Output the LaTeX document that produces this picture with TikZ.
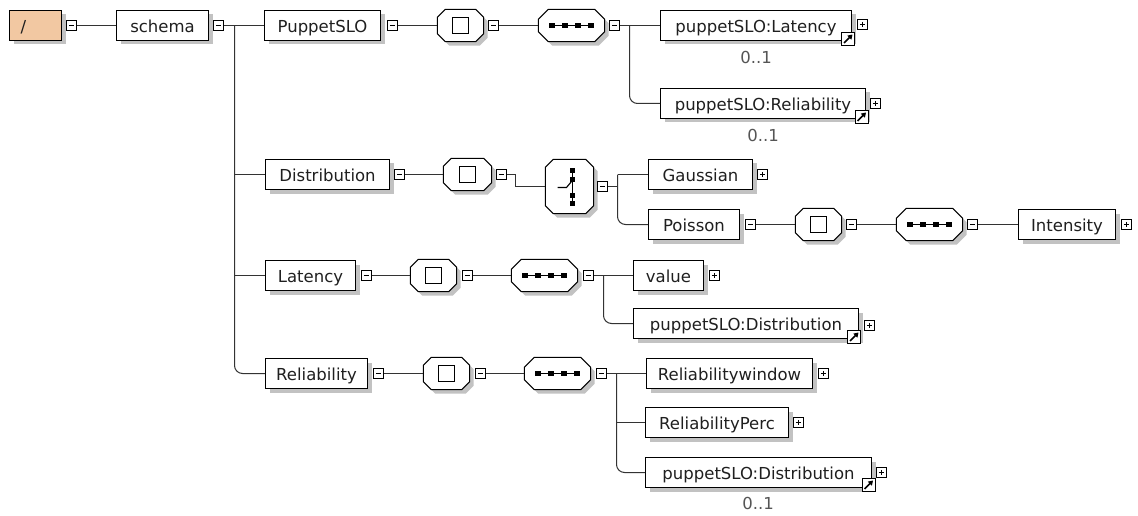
\documentclass[tikz,border=0pt]{standalone}
\usepackage{fontspec}
\setmainfont{DejaVu Sans}
\usetikzlibrary{shadows,arrows.meta}
\definecolor{peach}{HTML}{F2C8A2}
\definecolor{shadowgray}{HTML}{C2C2C2}
\definecolor{linegray}{HTML}{333333}
\definecolor{labelgray}{HTML}{555555}
\tikzset{
  sh/.style={drop shadow={shadow xshift=4pt, shadow yshift=-4pt, fill=shadowgray, opacity=1}},
  elem/.style={draw=black, fill=white, line width=1pt, inner sep=0pt, minimum height=30pt,
    text height=14.5pt, text depth=1pt, font=\fontsize{16.5}{20}\selectfont, text=black!88, sh},
  octfill/.style={draw=black, fill=white, line width=1pt, sh},
  conn/.style={draw=linegray, line width=1pt},
  mbox/.style={draw=black, fill=white, minimum size=10pt, inner sep=0pt, line width=1pt,
    path picture={\draw[line width=1pt] ([xshift=2.3pt]path picture bounding box.west) -- ([xshift=-2.3pt]path picture bounding box.east);}},
  pbox/.style={draw=black, fill=white, minimum size=10pt, inner sep=0pt, line width=1pt,
    path picture={\draw[line width=1pt] ([xshift=2.3pt]path picture bounding box.west) -- ([xshift=-2.3pt]path picture bounding box.east);
      \draw[line width=1pt] ([yshift=-2.3pt]path picture bounding box.north) -- ([yshift=2.3pt]path picture bounding box.south);}},
  refbox/.style={draw=black, fill=white, minimum size=13pt, inner sep=0pt, line width=1pt,
    path picture={\draw[line width=1.6pt, -{Triangle[length=4.5pt,width=5.5pt]}] ([shift={(2.5pt,2.5pt)}]path picture bounding box.south west) -- ([shift={(-2pt,-2pt)}]path picture bounding box.north east);}},
  lbl/.style={font=\fontsize{16.5}{20}\selectfont, text=labelgray, inner sep=0pt}
}
\newcommand\octnode[6]{% name, x, y, w, h, chamfer
  \node[inner sep=0pt, minimum width=#4pt, minimum height=#5pt] (#1) at (#2,#3) {};
  \filldraw[octfill] ([xshift=#6pt]#1.north west) -- ([xshift=-#6pt]#1.north east) -- ([yshift=-#6pt]#1.north east)
    -- ([yshift=#6pt]#1.south east) -- ([xshift=-#6pt]#1.south east) -- ([xshift=#6pt]#1.south west)
    -- ([yshift=#6pt]#1.south west) -- ([yshift=-#6pt]#1.north west) -- cycle;
}
\newcommand\allicon[1]{%
  \draw[line width=1pt] ([shift={(-8pt,-8pt)}]#1.center) rectangle ([shift={(8pt,8pt)}]#1.center);
}
\newcommand\seqicon[1]{%
  \draw[line width=1.1pt] ([xshift=-20pt]#1.center) -- ([xshift=20pt]#1.center);
  \foreach \dx in {-19.5,-6.5,6.5,19.5}{
    \fill ([xshift=\dx pt]#1.center) +(-2.7pt,-2.7pt) rectangle +(2.7pt,2.7pt);
  }
}
\newcommand\choiceicon[1]{%
  \draw[line width=1.1pt] ([shift={(3pt,16pt)}]#1.center) -- ([shift={(3pt,-17pt)}]#1.center);
  \foreach \dy in {16,7,-9,-17}{
    \fill ([shift={(3pt,\dy pt)}]#1.center) +(-2.8pt,-2.8pt) rectangle +(2.8pt,2.8pt);
  }
  \draw[line width=1.1pt] ([shift={(-12pt,-1pt)}]#1.center) -- ([shift={(-3pt,-1pt)}]#1.center) -- ([shift={(2pt,5pt)}]#1.center);
}
\begin{document}
\begin{tikzpicture}[x=1pt,y=-1pt]
\useasboundingbox (0,0) rectangle (1138,516);
\fill[white] (0,0) rectangle (1138,516);

% ---- root row ----
\node[elem, fill=peach, minimum width=52pt] (root) at (35.5,25.5) {\makebox[30pt][l]{/}};
\node[mbox] (mroot) at (71.5,25.5) {};
\node[elem, minimum width=92pt] (schema) at (162.5,25.5) {schema};
\node[mbox] (mschema) at (218.5,25.5) {};

% ---- PuppetSLO ----
\node[elem, minimum width=116pt] (puppet) at (322.5,25.5) {PuppetSLO};
\node[mbox] (mpuppet) at (392.5,25.5) {};
\octnode{all1}{460.5}{25.5}{46}{32}{8}\allicon{all1}
\node[mbox] (mall1) at (493.5,25.5) {};
\octnode{seq1}{571.5}{25.5}{66}{32}{10}\seqicon{seq1}
\node[mbox] (mseq1) at (614.5,25.5) {};
\node[elem, minimum width=191pt] (plat) at (756,25.5) {puppetSLO:Latency};
\node[refbox] (rplat) at (848,39) {};
\node[pbox] (pplat) at (862.5,24.5) {};
\node[lbl] (c1) at (756,57) {0..1};
\node[elem, minimum width=205pt] (prel) at (763,103.5) {puppetSLO:Reliability};
\node[refbox] (rprel) at (861.5,117) {};
\node[pbox] (pprel) at (875.5,103.5) {};
\node[lbl] (c2) at (763,135) {0..1};

% ---- Distribution ----
\node[elem, minimum width=124pt] (dist) at (327.5,174.5) {Distribution};
\node[mbox] (mdist) at (399.5,174.5) {};
\octnode{all2}{467.5}{174.5}{48}{32}{8}\allicon{all2}
\node[mbox] (mall2) at (501.5,174.5) {};
\octnode{choice}{569.5}{186.5}{48}{54}{8}\choiceicon{choice}
\node[mbox] (mchoice) at (602.5,186.5) {};
\node[elem, minimum width=104pt] (gauss) at (700.5,174.5) {Gaussian};
\node[pbox] (pgauss) at (762.5,174.5) {};
\node[elem, minimum width=91pt] (poisson) at (694,224.5) {Poisson};
\node[mbox] (mpoisson) at (750.5,224.5) {};
\octnode{all3}{818.5}{224.5}{46}{32}{8}\allicon{all3}
\node[mbox] (mall3) at (851.5,224.5) {};
\octnode{seq3}{929.5}{224.5}{66}{32}{10}\seqicon{seq3}
\node[mbox] (mseq3) at (972.5,224.5) {};
\node[elem, minimum width=97pt] (intensity) at (1067,224.5) {Intensity};
\node[pbox] (pintensity) at (1126.5,224.5) {};

% ---- Latency ----
\node[elem, minimum width=90pt] (latency) at (310.5,275.5) {Latency};
\node[mbox] (mlatency) at (366.5,275.5) {};
\octnode{all4}{433.5}{275.5}{46}{32}{8}\allicon{all4}
\node[mbox] (mall4) at (467.5,275.5) {};
\octnode{seq4}{544.5}{275.5}{66}{32}{10}\seqicon{seq4}
\node[mbox] (mseq4) at (588.5,275.5) {};
\node[elem, minimum width=70pt] (value) at (668.5,275.5) {value};
\node[pbox] (pvalue) at (714.5,275.5) {};
\node[elem, minimum width=225pt] (ldist) at (746,323.5) {puppetSLO:Distribution};
\node[refbox] (rldist) at (854,337) {};
\node[pbox] (pldist) at (869.5,325.5) {};

% ---- Reliability ----
\node[elem, minimum width=102pt] (reliab) at (316.5,373.5) {Reliability};
\node[mbox] (mreliab) at (378.5,373.5) {};
\octnode{all5}{446.5}{373.5}{46}{32}{8}\allicon{all5}
\node[mbox] (mall5) at (480.5,373.5) {};
\octnode{seq5}{557.5}{373.5}{66}{32}{10}\seqicon{seq5}
\node[mbox] (mseq5) at (601.5,373.5) {};
\node[elem, minimum width=166pt] (rwin) at (729.5,373.5) {Reliabilitywindow};
\node[pbox] (prwin) at (823.5,373.5) {};
\node[elem, minimum width=143pt] (rperc) at (717,422.5) {ReliabilityPerc};
\node[pbox] (prperc) at (798.5,422.5) {};
\node[elem, minimum width=226pt] (rdist) at (758.5,472.5) {puppetSLO:Distribution};
\node[refbox] (rrdist) at (868.5,485) {};
\node[pbox] (prdist) at (881.5,472.5) {};
\node[lbl] (c3) at (758,503) {0..1};

% ---- connectors ----
\coordinate (t1) at (234.5,25.5);
\coordinate (b1) at (629.5,25.5);
\coordinate (b2) at (617.5,174.5);
\coordinate (b4) at (603.5,275.5);
\coordinate (b5) at (616.5,373.5);
\draw[conn] (mroot.east) -- (schema.west);
\draw[conn] (mschema.east) -- (puppet.west);
\draw[conn, rounded corners=8pt] (t1) |- (reliab.west);
\draw[conn] (t1 |- dist.west) -- (dist.west);
\draw[conn] (t1 |- latency.west) -- (latency.west);

\draw[conn] (mpuppet.east) -- (all1.west);
\draw[conn] (mall1.east) -- (seq1.west);
\draw[conn] (mseq1.east) -- (plat.west);
\draw[conn, rounded corners=8pt] (b1) |- (prel.west);

\draw[conn] (mdist.east) -- (all2.west);
\draw[conn] (mall2.east) -- ++(8pt,0) |- (choice.west);
\draw[conn] (mchoice.east) -- (b2 |- mchoice.east);
\draw[conn] (b2) -- (gauss.west);
\draw[conn, rounded corners=8pt] (b2) |- (poisson.west);
\draw[conn] (mpoisson.east) -- (all3.west);
\draw[conn] (mall3.east) -- (seq3.west);
\draw[conn] (mseq3.east) -- (intensity.west);

\draw[conn] (mlatency.east) -- (all4.west);
\draw[conn] (mall4.east) -- (seq4.west);
\draw[conn] (mseq4.east) -- (value.west);
\draw[conn, rounded corners=8pt] (b4) |- (ldist.west);

\draw[conn] (mreliab.east) -- (all5.west);
\draw[conn] (mall5.east) -- (seq5.west);
\draw[conn] (mseq5.east) -- (rwin.west);
\draw[conn] (b5 |- rperc.west) -- (rperc.west);
\draw[conn, rounded corners=8pt] (b5) |- (rdist.west);
\end{tikzpicture}
\end{document}
